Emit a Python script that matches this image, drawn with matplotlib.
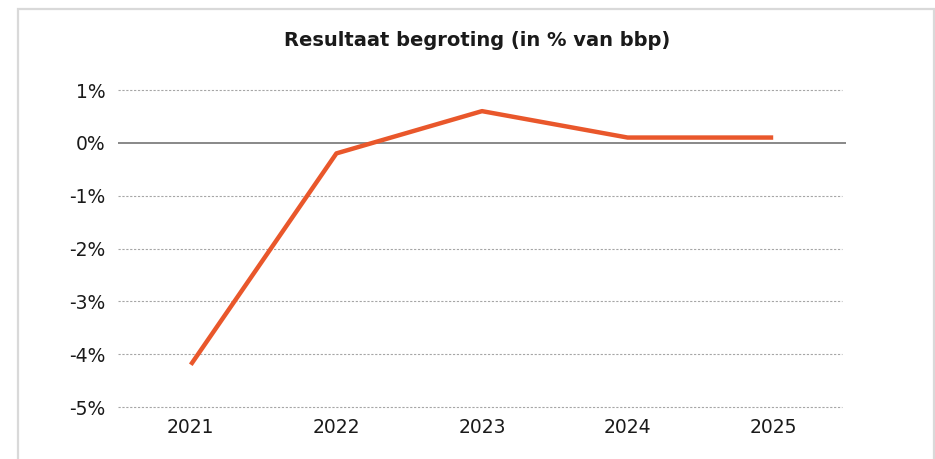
import matplotlib.pyplot as plt
from matplotlib.patches import Rectangle
from matplotlib.ticker import FuncFormatter

years = ['2021', '2022', '2023', '2024', '2025']
saldo = [-4.2, -0.2, 0.6, 0.1, 0.1]
yticks = [1, 0, -1, -2, -3, -4, -5]

fig = plt.figure(figsize=(9.35, 4.59), dpi=100)
ax = fig.add_axes([118 / 935, 1 - 407 / 459, (846 - 118) / 935, (407 - 90) / 459])

# kader rond de figuur
fig.patches.append(Rectangle((18 / 935, -0.1), (934 - 18) / 935, 1.1 - 9 / 459,
                             transform=fig.transFigure, fill=False,
                             edgecolor='#d9d9d9', linewidth=1.6))

x = range(len(years))
for t in yticks:
    if t == 0:
        continue
    ax.axhline(t, xmin=0, xmax=0.994, color='#a6a6a6', linestyle=(0, (2, 1.5)),
               linewidth=0.8, zorder=1, clip_on=False)
ax.axhline(0, color='#7f7f7f', linewidth=1.3, zorder=2)

ax.plot(x, saldo, color='#e9572b', linewidth=3.2, solid_capstyle='butt', zorder=3)

ax.set_xlim(-0.5, len(years) - 0.5)
ax.set_ylim(-5, 1)
ax.set_xticks(list(x))
ax.set_xticklabels(years)
ax.set_yticks(yticks)
ax.yaxis.set_major_formatter(FuncFormatter(lambda v, p: f'{int(v)}%'))
ax.tick_params(length=0, labelsize=13.5, colors='#1a1a1a')
ax.tick_params(axis='y', pad=9)
ax.tick_params(axis='x', pad=8)
for s in ax.spines.values():
    s.set_visible(False)

fig.text(477 / 935, 1 - 40 / 459, 'Resultaat begroting (in % van bbp)', ha='center', va='center',
         fontsize=14, fontweight='bold', color='#1a1a1a')

fig.savefig('out.png', dpi=100)
